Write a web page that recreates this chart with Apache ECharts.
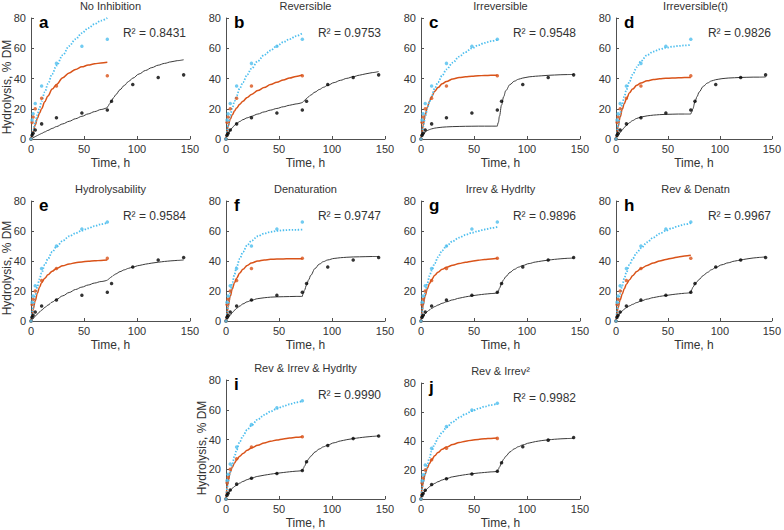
<!DOCTYPE html>
<html><head><meta charset="utf-8">
<script src="https://cdn.jsdelivr.net/npm/echarts@6/dist/echarts.min.js"></script>
<style>html,body{margin:0;padding:0;background:#fff;}#c{width:784px;height:530px;}</style>
</head><body><div id="c"></div>
<script>
// ---------- DATA ----------
const curveTimes  = [0,1,2,4,6,8,10,13,16,20,24,30,36,42,48,54,60,66,72];
const stage2Times = [72,73,74,76,78,80,84,88,92,96,102,108,114,120,126,132,138,144];

const obsBlueTimes    = [0,1,2,4,10,24,48,72];
const obsBlueValues   = [0,12.5,16.7,23.5,35,50,61.3,66];
const obsOrangeTimes  = [0,1,2,4,10,24,72];
const obsOrangeValues = [0,11,14.5,20,27,35,41.8];
const obsBlackTimes   = [0,1,2,4,10,24,48,72,76,96,120,144];
const obsBlackValues  = [0,2.5,3.8,6,10,14,17.2,19.2,25,36,40.6,42.4];

const panelTitles  = ['No Inhibition','Reversible','Irreversible','Irreversible(t)','Hydrolysability','Denaturation','Irrev & Hydrlty','Rev & Denatn','Rev & Irrev & Hydrlty','Rev & Irrev\u00B2'];
const panelLetters = ['a','b','c','d','e','f','g','h','i','j'];
const rSquared     = ['0.8431','0.9753','0.9548','0.9826','0.9584','0.9747','0.9896','0.9967','0.9990','0.9982'];
const xTicks = [0,50,100,150];
const yTicks = [0,20,40,60,80];
const xLabel = 'Time, h';
const yLabel = 'Hydrolysis, % DM';

// fitted curves (blue dotted, orange, black stage 1 / stage 2)
const blueA   = [0,2.9,5.7,11,16,20.5,25,31,36.5,43,48.5,55.5,61.5,66,70,73.3,76,78.2,80];
const orangeA = [0,2.5,5,9.3,13.5,17,20,24.7,28.5,33,36,40.5,43.7,46,47.7,48.9,49.7,50.3,50.7];
const blackA1 = [0,0.4,0.8,1.6,2.3,3,3.7,4.7,5.7,7,8.2,10,11.7,13.4,15,16.6,18.1,19.5,20.8];
const blackA2 = [20.8,22,23.2,25.4,27.4,29.3,32.6,35.4,38,40.2,43,45.3,47.2,48.8,50,51,51.8,52.4];

const blueB   = [0,5,9,15.5,20.5,25,28.5,33.5,37.5,42.5,46.5,51.5,55.5,58.5,61.5,64,66,68,70];
const orangeB = [0,5,8.5,13,16,18.5,20.5,23,25,27.5,29.5,32,34,36,37.5,39,40.3,41.4,42.3];
const blackB1 = [0,2,3.5,5.8,7.5,9,10.2,11.6,12.8,14,15,16.5,17.9,19.1,20.2,21.3,22.3,23.2,24.1];
const blackB2 = [24.1,24.8,25.5,26.8,28,29.1,31,32.7,34.2,35.5,37.3,38.8,40.1,41.2,42.2,43.1,43.9,44.6];

const blueC   = [0,4,8,14.5,20,24.5,28.5,33.5,37.5,42,46,50.5,54.5,57.5,60,62,63.5,64.7,65.6];
const orangeC = [0,4.5,9,16,21,25,28,31.5,34,36.5,38,39.7,40.6,41.1,41.5,41.8,42,42.1,42.2];
const blackC1 = [0,1.8,3,4.6,5.6,6.2,6.7,7.2,7.5,7.8,8,8.2,8.3,8.4,8.45,8.5,8.5,8.5,8.5];
const blackC2 = [8.5,11,15,22.5,28,32,36,38.2,39.5,40.3,41.1,41.5,41.8,42.1,42.3,42.5,42.6,42.7];

const blueD   = [0,4.5,9,17,23,28,32.5,38,42.5,47.5,51.5,55.5,57.8,59.3,60.3,61,61.5,61.9,62.2];
const orangeD = [0,4,8,14.5,19.5,23.5,26.5,30.5,33,35.5,37,38.5,39.3,39.8,40.1,40.3,40.5,40.6,40.7];
const blackD1 = [0,1.1,2.2,4.2,6,7.6,9,10.8,12.2,13.6,14.5,15.3,15.8,16.1,16.3,16.4,16.5,16.5,16.5];
const blackD2 = [16.5,18,20,24.5,28,31,34.8,37,38.4,39.2,39.9,40.3,40.5,40.7,40.8,40.9,40.9,41];

const blueE   = [0,5,9.5,17,23,28,32,37.5,41.5,46,49.5,53.5,56.5,58.5,60.3,61.8,63.3,64.5,65.5];
const orangeE = [0,4,7.5,13.5,18.5,22.5,25.5,28.5,30.8,33.2,35,36.8,38,38.8,39.4,39.8,40.1,40.4,40.6];
const blackE1 = [0,0.8,1.6,3.2,4.6,6,7.2,9,10.6,12.6,14.4,16.8,19,21,22.6,24,25.3,26.3,27.2];
const blackE2 = [27.2,27.8,28.4,29.5,30.5,31.4,32.9,34.1,35.1,36,37,37.9,38.6,39.2,39.7,40.1,40.4,40.7];

const blueF   = [0,5,10,18.5,25.5,31,36,41.5,46,50.5,53.5,56.5,58.3,59.4,60.1,60.5,60.7,60.8,60.9];
const orangeF = [0,5,9.5,16.5,21.5,25.5,28.5,32,34.5,37,38.7,40,40.7,41.1,41.3,41.4,41.5,41.5,41.5];
const blackF1 = [0,1,2,3.9,5.6,7.1,8.4,10,11.4,12.8,13.8,14.9,15.5,15.9,16.1,16.2,16.3,16.4,16.4];
const blackF2 = [16.4,18.5,20.5,24,27.5,30.5,35,37.9,39.6,40.7,41.7,42.2,42.5,42.7,42.8,42.9,43,43];

const blueG   = [0,6,11,19,25,30,33.5,38.5,42.5,47,50,53.3,55.6,57.4,58.8,60,61,61.9,62.7];
const orangeG = [0,6,10.5,17,21.5,25,27.5,30.5,32.5,34.5,35.8,37.2,38.3,39.2,39.9,40.5,41,41.4,41.8];
const blackG1 = [0,1.8,3,4.9,6.3,7.4,8.4,9.6,10.6,11.8,12.8,14.1,15.2,16.1,16.8,17.4,17.9,18.3,18.7];
const blackG2 = [18.7,20,21.8,25,27.6,29.6,32.4,34.4,35.9,37,38.3,39.3,40,40.6,41.1,41.5,41.8,42];

const blueH   = [0,6.5,11,18,23.5,28.5,32.5,37.5,41.5,45.5,48.5,52.5,55.7,58.2,60.2,61.9,63.3,64.4,65.3];
const orangeH = [0,5.5,9,14,18,21.5,24.5,27.5,30.2,33,35,37,38.7,40,41,41.9,42.7,43.3,43.8];
const blackH1 = [0,2,3.3,5.3,6.7,7.9,8.9,10.1,11.1,12.3,13.3,14.6,15.6,16.4,17,17.6,18.1,18.5,18.9];
const blackH2 = [18.9,21,22.5,24.5,26.2,27.7,30.3,32.4,34.2,35.7,37.5,38.8,39.9,40.7,41.4,42,42.4,42.8];

const blueI   = [0,7,11.5,18,23.5,28.5,33,38.5,42.5,46.5,49.5,53.5,56.5,58.8,60.7,62.3,63.7,64.9,65.8];
const orangeI = [0,8,12,18,21.5,24.2,26.3,28.7,30.6,32.7,34.3,36.1,37.6,38.8,39.7,40.4,41,41.5,41.9];
const blackI1 = [0,2.5,3.8,5.8,7.2,8.4,9.4,10.7,11.8,13,14,15.2,16,16.7,17.3,17.8,18.3,18.7,19.1];
const blackI2 = [19.1,20.5,22,24.8,27,28.8,31.6,33.6,35.1,36.3,37.8,39,39.9,40.6,41.2,41.7,42.1,42.5];

const blueJ   = [0,7,11.5,18,23.5,28.5,33,38,42,46,49.3,53.2,56.2,58.6,60.6,62.3,63.7,64.8,65.7];
const orangeJ = [0,7,11.5,17.5,21.5,24.5,27,29.8,32,34.3,35.8,37.6,38.9,39.9,40.6,41.1,41.5,41.8,42];
const blackJ1 = [0,2.5,3.8,5.8,7.2,8.5,9.5,10.8,11.9,13.1,14.1,15.3,16.1,16.8,17.4,17.9,18.3,18.7,19];
const blackJ2 = [19,20.5,22,25,27.5,29.5,32.5,34.6,36.1,37.3,38.6,39.6,40.3,40.8,41.2,41.5,41.7,41.9];

// ---------- LAYOUT ----------
const panels = [
  {box:[31,18,159,121],  blue:blueA, orange:orangeA, b1:blackA1, b2:blackA2, ylab:87},
  {box:[226,18,159,121], blue:blueB, orange:orangeB, b1:blackB1, b2:blackB2},
  {box:[421,18,159,121], blue:blueC, orange:orangeC, b1:blackC1, b2:blackC2},
  {box:[616,18,159,121], blue:blueD, orange:orangeD, b1:blackD1, b2:blackD2},
  {box:[31,201,159,120], blue:blueE, orange:orangeE, b1:blackE1, b2:blackE2, ylab:268},
  {box:[226,201,159,120],blue:blueF, orange:orangeF, b1:blackF1, b2:blackF2},
  {box:[421,201,159,120],blue:blueG, orange:orangeG, b1:blackG1, b2:blackG2},
  {box:[616,201,159,120],blue:blueH, orange:orangeH, b1:blackH1, b2:blackH2},
  {box:[226,380,159,119],blue:blueI, orange:orangeI, b1:blackI1, b2:blackI2, ylab:448},
  {box:[421,383,159,116],blue:blueJ, orange:orangeJ, b1:blackJ1, b2:blackJ2}
];

const FONT = 'Arial, "Liberation Sans", Helvetica, sans-serif';
const AX = '#333333';
const BLUE = '#4DBEEE', ORANGE = '#D95319', BLACKLINE = '#3a3a3a';

const pair = (ts, vs) => ts.map((t,i)=>[t, vs[i]]);

const grid=[], xAxis=[], yAxis=[], series=[], graphic=[];
panels.forEach((p, k) => {
  const [l,t,w,h] = p.box;
  grid.push({left:l, top:t, width:w, height:h, containLabel:false});
  xAxis.push({type:'value', gridIndex:k, min:xTicks[0], max:xTicks[xTicks.length-1], interval:xTicks[1]-xTicks[0],
    name:xLabel, nameLocation:'middle', nameGap:18, nameTextStyle:{fontSize:12, color:AX, fontFamily:FONT, fontWeight:'normal'},
    axisLine:{show:true, onZero:false, lineStyle:{color:'#505050', width:1}},
    axisTick:{show:true, inside:true, length:3, lineStyle:{color:'#505050'}},
    axisLabel:{fontSize:11, color:AX, fontFamily:FONT, fontWeight:'normal', margin:4},
    splitLine:{show:false}});
  yAxis.push({type:'value', gridIndex:k, min:yTicks[0], max:yTicks[yTicks.length-1], interval:yTicks[1]-yTicks[0],
    axisLine:{show:true, onZero:false, lineStyle:{color:'#505050', width:1}},
    axisTick:{show:true, inside:true, length:3, lineStyle:{color:'#505050'}},
    axisLabel:{fontSize:11, color:AX, fontFamily:FONT, fontWeight:'normal', margin:5},
    splitLine:{show:false}});
  const base = {xAxisIndex:k, yAxisIndex:k, silent:true, animation:false};
  series.push(Object.assign({type:'line', data:pair(stage2Times,p.b2), showSymbol:false, smooth:0.35, smoothMonotone:'x',
    lineStyle:{color:BLACKLINE, width:1}, z:2}, base));
  series.push(Object.assign({type:'line', data:pair(curveTimes,p.b1), showSymbol:false, smooth:0.35, smoothMonotone:'x',
    lineStyle:{color:BLACKLINE, width:1}, z:2}, base));
  series.push(Object.assign({type:'line', data:pair(curveTimes,p.orange), showSymbol:false, smooth:0.35, smoothMonotone:'x',
    lineStyle:{color:ORANGE, width:1.5}, z:3}, base));
  series.push(Object.assign({type:'line', data:pair(curveTimes,p.blue), showSymbol:false, smooth:0.35, smoothMonotone:'x',
    lineStyle:{color:BLUE, width:1.8, type:[1.4,1.6], cap:'butt'}, z:4}, base));
  series.push(Object.assign({type:'scatter', data:pair(obsBlackTimes,obsBlackValues), symbol:'circle', symbolSize:3.5,
    itemStyle:{color:'#000'}, z:5}, base));
  series.push(Object.assign({type:'scatter', data:pair(obsOrangeTimes,obsOrangeValues), symbol:'circle', symbolSize:3.5,
    itemStyle:{color:ORANGE}, z:5}, base));
  series.push(Object.assign({type:'scatter', data:pair(obsBlueTimes,obsBlueValues), symbol:'circle', symbolSize:3.5,
    itemStyle:{color:BLUE}, z:5}, base));

  // title
  graphic.push({type:'text', x:l + w/2, y:t - 12, z:10, style:{text:panelTitles[k], fill:AX,
    font:'11px ' + FONT, textAlign:'center', textVerticalAlign:'middle', align:'center', verticalAlign:'middle'}});
  // panel letter
  graphic.push({type:'text', x:l + 8, y:t + 4, z:10, style:{text:panelLetters[k], fill:'#000',
    font:'bold 17px ' + FONT, textAlign:'left', textVerticalAlign:'middle', align:'left', verticalAlign:'middle'}});
  // R squared
  graphic.push({type:'text', x:l + 155, y:t + 15, z:10, style:{text:'R\u00B2 = ' + rSquared[k], fill:AX,
    font:'12px ' + FONT, textAlign:'right', textVerticalAlign:'middle', align:'right', verticalAlign:'middle'}});
  if (p.ylab) {
    graphic.push({type:'text', x:l - 24, y:p.ylab, rotation:Math.PI/2, z:10, style:{text:yLabel, fill:AX,
      font:'12px ' + FONT, textAlign:'center', textVerticalAlign:'middle', align:'center', verticalAlign:'middle'}});
  }
});

const chart = echarts.init(document.getElementById('c'), null, {renderer:'svg', width:784, height:530});
chart.setOption({backgroundColor:'#fff', animation:false, grid, xAxis, yAxis, series, graphic});
</script></body></html>
